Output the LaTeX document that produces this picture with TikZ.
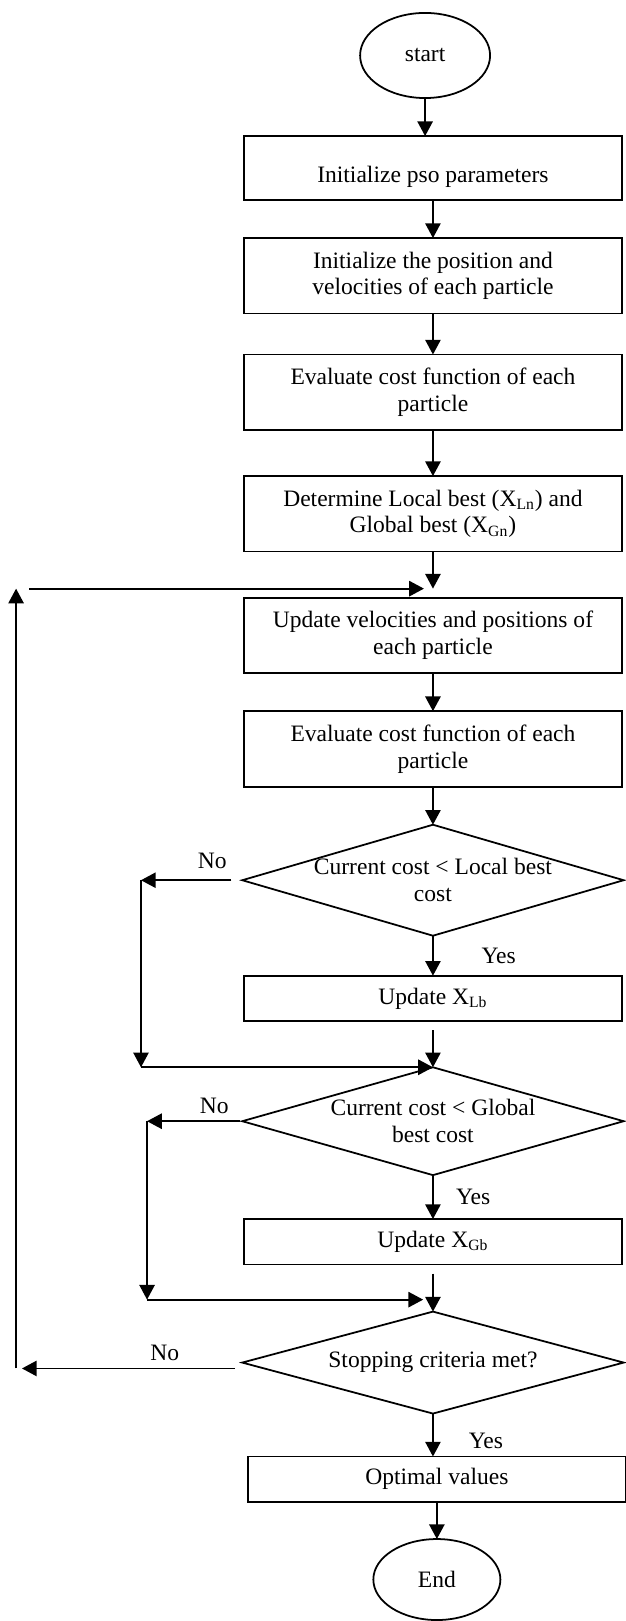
\documentclass[tikz,border=0pt]{standalone}
\usepackage{fontspec}
\setmainfont{Liberation Serif}
\usepackage{tikz}
\usetikzlibrary{positioning, calc, arrows.meta, shapes.geometric}
\tikzset{>={Triangle[length=7.5pt,width=7.8pt]}}
\tikzset{terminal/.style={draw, ellipse, inner sep=0pt, outer sep=0pt, minimum width=66.3pt, minimum height=43.4pt}}
\tikzset{process/.style={draw, rectangle, align=center, inner sep=0pt, outer sep=0pt, minimum width=192.8pt, minimum height=38.5pt}}
\tikzset{decision/.style={draw, diamond, align=center, aspect=3.4, inner sep=-8pt, outer sep=0pt, minimum width=194.5pt}}

\begin{document}
\begin{tikzpicture}[font=\fontsize{12pt}{13.6pt}\selectfont, line width=0.9pt]
    \useasboundingbox (0,0) rectangle (318.75pt,-826.7pt);

    \node[terminal] (start) at (216.8pt,-28.3pt) {start};
    \node[process, minimum height=32.6pt, below=19.4pt of start, xshift=4pt]
    (init-par) {\raisebox{-4.5pt}[\height][\depth]{Initialize pso parameters}};
    \node[process, below=19.4pt of init-par] (init-pos) {Initialize the position and \\ velocities of each particle};
    \node[process, below=20.9pt of init-pos] (eval-1) {Evaluate cost function of each \\ particle};
    \node[process, below=23.5pt of eval-1]
    (best) {Determine Local best (X\textsubscript{Ln}) and \\ Global best (X\textsubscript{Gn})};
    \node[process, below=23.5pt of best] (update) {Update velocities and positions of \\ each particle};
    \node[process, below=19.4pt of update] (eval-2) {Evaluate cost function of each \\ particle};

    \node[decision, minimum height=56.6pt, below=19.4pt of eval-2] (cmp-lb) {Current cost < Local best \\ cost};
    \node[process, minimum height=23.2pt, below=20.4pt of cmp-lb] (upd-lb) {Update X\textsubscript{Lb}};
    \node[decision, minimum height=55pt, below=23.5pt of upd-lb] (cmp-gb) {Current cost < Global \\ best cost};
    \node[process, minimum height=23.2pt, below=22.4pt of cmp-gb] (upd-gb) {Update X\textsubscript{Gb}};
    \node[decision, minimum height=52pt, below=24pt of upd-gb] (stop) {Stopping criteria met?};
    \node[process, minimum height=23.2pt, below=21.9pt of stop, xshift=2pt] (optimal) {Optimal values};
    \node[terminal, minimum width=64.8pt, minimum height=41.3pt, below=18.9pt of optimal] (end) {End};

    \coordinate[above=4.6pt of update.north] (join-up);
    \coordinate[above=6.1pt of stop.north] (join-stop);
    \coordinate (edge) at (8.2pt,0);
    \coordinate (side-lb) at (71.9pt,0);
    \coordinate (side-gb) at (75pt,0);
    \coordinate (lb-turn) at (side-lb |- cmp-lb.west);
    \coordinate (lb-join) at (side-lb |- cmp-gb.north);
    \coordinate (gb-turn) at (side-gb |- cmp-gb.west);
    \coordinate (gb-join) at (side-gb |- join-stop);
    \coordinate (back-low) at ($(edge |- stop.west)+(0,-3pt)$);
    \coordinate (back-top) at (edge |- join-up);

    \draw[->] (start) to (start |- init-par.north);
    \draw[->] (init-par) to (init-pos);
    \draw[->] (init-pos) to (eval-1);
    \draw[->] (eval-1) to (best);
    \draw[->] (best) to (join-up);
    \draw[->] (update) to (eval-2);
    \draw[->] (eval-2) to (cmp-lb);
    \draw[->] (cmp-lb) to node[right=21pt] {Yes} (upd-lb);
    \draw[->, shorten <=4.6pt] (upd-lb) to (cmp-gb);
    \draw[->] (cmp-gb) to node[right=8pt] {Yes} (upd-gb);
    \draw[->, shorten <=4.6pt] (upd-gb) to (stop);
    \draw[->] (stop) to node[right=14.5pt, yshift=-3pt] {Yes} (stop |- optimal.north);
    \draw[->] (optimal) to (end);

    \draw[->] ([xshift=-5.6pt]cmp-lb.west) to node[pos=0.21, above=2.3pt] {No} (lb-turn);
    \draw[->] (lb-turn) to (lb-join);
    \draw[->] (lb-join) to (cmp-gb.north);

    \draw[->] ([xshift=-1pt]cmp-gb.west) to node[pos=0.28, above] {No} (gb-turn);
    \draw[->] (gb-turn) to (gb-join);
    \draw[->, shorten >=5pt] (gb-join) to (join-stop);

    \draw[->] ([xshift=-3.6pt, yshift=-3pt]stop.west) to node[pos=0.33, above] {No} ([xshift=3pt]back-low);
    \draw[->] (back-low) to (back-top);
    \draw[->, shorten >=4.6pt] ([xshift=6.6pt]back-top) to (join-up);
  \end{tikzpicture}
\end{document}
